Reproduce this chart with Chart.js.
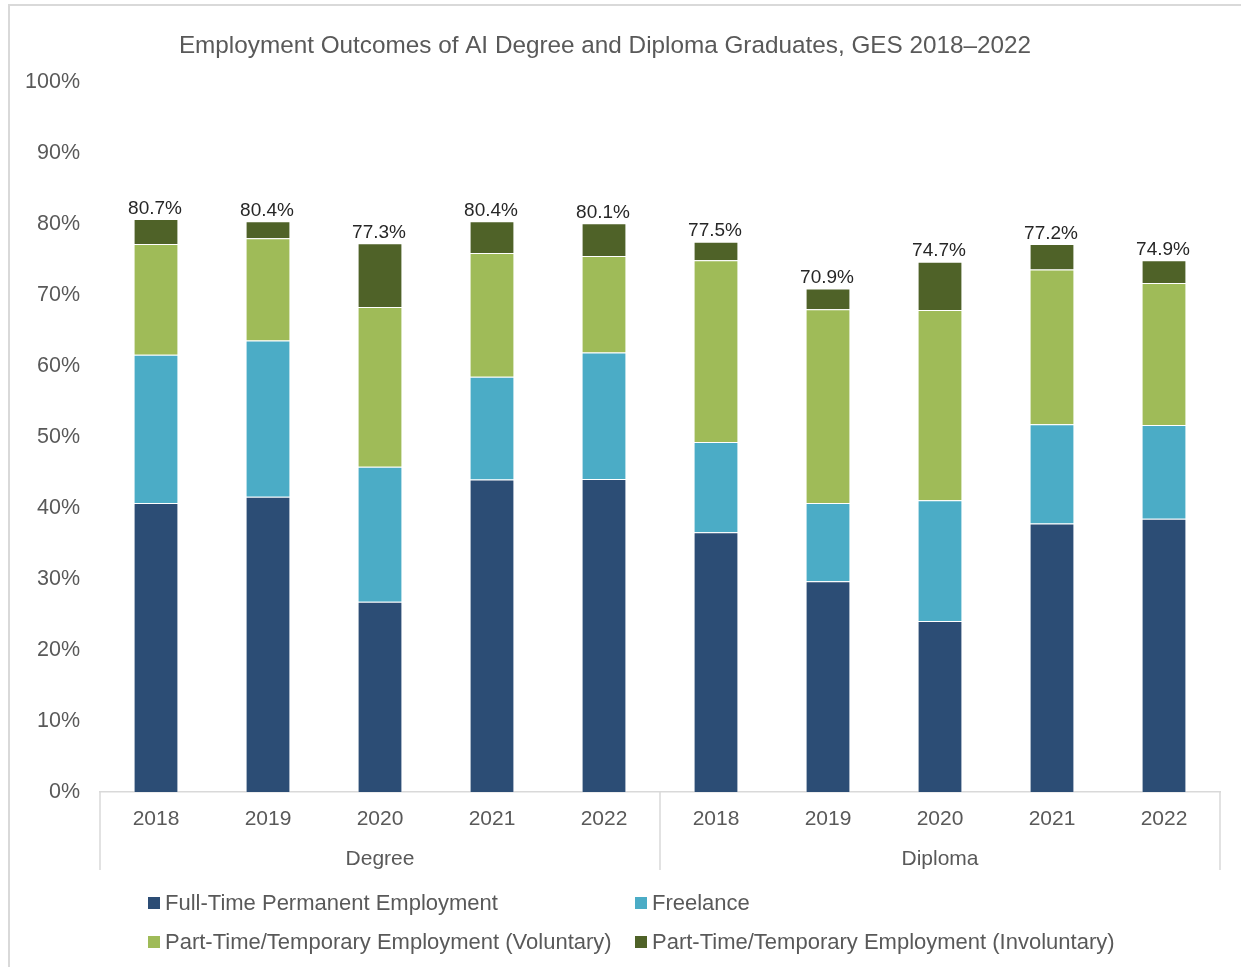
<!DOCTYPE html>
<html>
<head>
<meta charset="utf-8">
<script src="https://cdn.jsdelivr.net/npm/chart.js@4.4.1/dist/chart.umd.min.js"></script>
<style>
  html, body { margin: 0; padding: 0; background: #ffffff; }
  #wrap { position: relative; width: 1241px; height: 967px; overflow: hidden; }
  canvas { position: absolute; left: 0; top: 0; }
  .lg { position: absolute; font-family: "Liberation Sans", Arial, sans-serif; font-size: 22px; color: #595959; white-space: nowrap; line-height: 24px; }
  .lg span.sw { display: inline-block; width: 12px; height: 12px; margin-right: 5px; vertical-align: 1px; }
</style>
</head>
<body>
<div id="wrap">
  <canvas id="c" width="1241" height="967"></canvas>
  <div id="legend"></div>
</div>
<script>
// ---- Data ----
const chartTitle = "Employment Outcomes of AI Degree and Diploma Graduates, GES 2018–2022";
const years = ["2018", "2019", "2020", "2021", "2022", "2018", "2019", "2020", "2021", "2022"];
const groups = ["Degree", "Diploma"];
const groupSizes = [5, 5];
const seriesNames = [
  "Full-Time Permanent Employment",
  "Freelance",
  "Part-Time/Temporary Employment (Voluntary)",
  "Part-Time/Temporary Employment (Involuntary)"
];
const fullTime    = [40.7, 41.6, 26.8, 44.0, 44.1, 36.6, 29.7, 24.1, 37.8, 38.5];
const freelance   = [20.9, 22.0, 19.0, 14.5, 17.8, 12.7, 11.0, 17.0, 14.0, 13.2];
const voluntary   = [15.6, 14.4, 22.5, 17.4, 13.6, 25.6, 27.3, 26.8, 21.8, 20.0];
const involuntary = [3.5, 2.4, 9.0, 4.5, 4.6, 2.6, 2.9, 6.8, 3.6, 3.2];
const totalLabels = ["80.7%", "80.4%", "77.3%", "80.4%", "80.1%", "77.5%", "70.9%", "74.7%", "77.2%", "74.9%"];
const yTicksMax = 100;
const yTickStep = 10;

const colors = ["#2C4D75", "#4BACC6", "#9FBB58", "#4F6228"];
const FONT = '"Liberation Sans", Arial, sans-serif';
const GREY = "#595959";
const LINE = "#d9d9d9";

const seriesData = [fullTime, freelance, voluntary, involuntary];

const frameTitlePlugin = {
  id: "frameTitle",
  beforeDraw(chart) {
    const ctx = chart.ctx;
    ctx.save();
    ctx.strokeStyle = LINE;
    ctx.lineWidth = 2;
    ctx.beginPath();
    ctx.moveTo(9, 980);
    ctx.lineTo(9, 5);
    ctx.lineTo(1260, 5);
    ctx.stroke();
    ctx.fillStyle = GREY;
    ctx.font = "24.3px " + FONT;
    ctx.textAlign = "center";
    ctx.textBaseline = "middle";
    ctx.fillText(chartTitle, 605, 46);
    ctx.restore();
  }
};

const axisGroupsPlugin = {
  id: "axisGroups",
  afterDraw(chart) {
    const ctx = chart.ctx;
    const x = chart.scales.x;
    const area = chart.chartArea;
    ctx.save();
    ctx.strokeStyle = LINE;
    ctx.lineWidth = 1.5;
    const seps = [area.left];
    let idx = 0;
    groupSizes.forEach((n, gi) => {
      idx += n;
      if (gi < groupSizes.length - 1) {
        seps.push((x.getPixelForValue(idx - 1) + x.getPixelForValue(idx)) / 2);
      }
    });
    seps.push(area.right);
    seps.forEach(px => {
      ctx.beginPath();
      ctx.moveTo(px, area.bottom);
      ctx.lineTo(px, area.bottom + 78);
      ctx.stroke();
    });
    ctx.fillStyle = GREY;
    ctx.font = "21px " + FONT;
    ctx.textAlign = "center";
    ctx.textBaseline = "middle";
    let start = 0;
    groupSizes.forEach((n, gi) => {
      const cx = (x.getPixelForValue(start) + x.getPixelForValue(start + n - 1)) / 2;
      ctx.fillText(groups[gi], cx, area.bottom + 67);
      start += n;
    });
    const y = chart.scales.y;
    ctx.fillStyle = "#262626";
    ctx.font = "19px " + FONT;
    ctx.textBaseline = "bottom";
    for (let i = 0; i < years.length; i++) {
      let t = 0;
      seriesData.forEach(s => { t += s[i]; });
      ctx.fillText(totalLabels[i], x.getPixelForValue(i) - 1, y.getPixelForValue(t) - 1);
    }
    ctx.restore();
  }
};

const ctx = document.getElementById("c").getContext("2d");
new Chart(ctx, {
  type: "bar",
  data: {
    labels: years,
    datasets: seriesNames.map((name, i) => ({
      label: name,
      data: seriesData[i],
      backgroundColor: colors[i],
      borderColor: "rgba(255,255,255,0.55)",
      borderWidth: 1,
      barPercentage: 0.4,
      categoryPercentage: 1.0
    }))
  },
  options: {
    responsive: false,
    animation: false,
    devicePixelRatio: 1,
    layout: { padding: { top: 82, left: 0, right: 21, bottom: 0 } },
    plugins: {
      legend: { display: false },
      title: { display: false },
      tooltip: { enabled: false }
    },
    scales: {
      x: {
        stacked: true,
        grid: { display: false, drawTicks: false },
        border: { display: true, color: LINE, width: 1.5 },
        ticks: { color: GREY, font: { family: FONT, size: 21 }, padding: 15, maxRotation: 0, autoSkip: false },
        afterFit(scale) { scale.height = 175; }
      },
      y: {
        stacked: true,
        min: 0,
        max: yTicksMax,
        grid: { display: false, drawTicks: false },
        border: { display: false },
        ticks: {
          stepSize: yTickStep,
          color: GREY,
          font: { family: FONT, size: 21.5 },
          padding: 20,
          callback: v => v + "%"
        },
        afterFit(scale) { scale.width = 100; }
      }
    }
  },
  plugins: [frameTitlePlugin, axisGroupsPlugin]
});

const legendPos = [[148, 891], [635, 891], [148, 930], [635, 930]];
const lg = document.getElementById("legend");
seriesNames.forEach((name, i) => {
  const d = document.createElement("div");
  d.className = "lg";
  d.style.left = legendPos[i][0] + "px";
  d.style.top = legendPos[i][1] + "px";
  d.innerHTML = '<span class="sw" style="background:' + colors[i] + '"></span>' + name;
  lg.appendChild(d);
});
</script>
</body>
</html>
